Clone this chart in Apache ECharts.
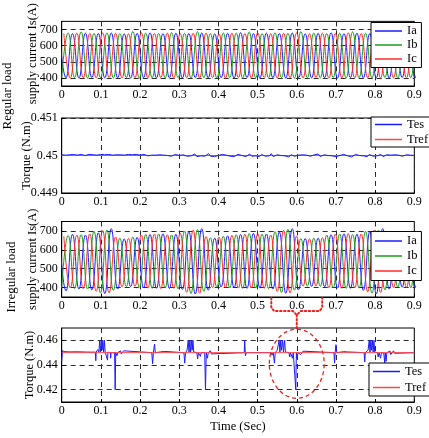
<!DOCTYPE html>
<html><head><meta charset="utf-8">
<script src="https://cdn.jsdelivr.net/npm/echarts@6/dist/echarts.min.js"></script>
<style>html,body{margin:0;padding:0;background:#fff}#c{width:429px;height:438px}</style>
</head><body><div id="c"></div>
<script>
// ---- axis ticks ----
const timeTicks = [0, 0.1, 0.2, 0.3, 0.4, 0.5, 0.6, 0.7, 0.8, 0.9];
const currentTicks = [400, 500, 600, 700];
const torqueRegTicks = [0.449, 0.45, 0.451];
const torqueIrrTicks = [0.42, 0.44, 0.46];

// ---- current waveforms: successive peak/trough values (A), one every half period ----
const halfPeriod = 0.0165;         // s between successive extrema of one phase
const iaStart = -0.0055, ibStart = 0.0, icStart = 0.0055; // time of first extremum

const iaReg = [676,401,674,399,677,402,675,400,678,401,673,399,676,402,679,400,674,401,677,399,675,402,678,400,673,401,676,399,680,402,674,400,677,401,675,399,678,402,673,400,676,401,679,399,674,402,677,400,675,401,678,399,673,402,676,400,677,401,675,399,678,400,676,401];
const ibReg = [400,678,402,685,399,676,401,679,400,674,402,688,399,677,401,675,400,680,402,676,399,686,401,674,400,678,402,677,399,684,401,675,400,679,402,676,399,687,401,678,400,674,402,677,399,685,401,676,400,679,402,675,399,680,401,677,400,676,402,678,399,675,401,677];
const icReg = [675,399,677,401,674,400,678,402,676,399,673,401,679,400,675,402,677,399,674,401,676,400,678,402,673,399,677,401,675,400,679,402,674,399,676,401,678,400,673,402,677,399,675,401,679,400,674,402,676,399,678,401,673,400,677,402,675,399,676,401,678,400,674,401];

const iaIrr = [668,382,682,392,678,388,690,368,712,392,658,405,666,398,681,396,685,395,682,390,696,366,712,386,662,403,674,399,681,396,687,397,684,392,694,370,712,390,660,406,662,404,680,397,685,396,683,385,697,366,712,392,674,402,677,399,676,401,678,399,675,400,677,398];
const ibIrr = [398,676,395,680,392,698,372,705,385,662,405,668,402,682,396,684,398,679,393,700,368,707,380,664,402,672,398,680,396,686,397,683,394,696,374,708,386,660,408,662,406,678,398,684,396,681,397,698,370,705,388,674,402,676,399,678,400,677,398,675,401,676,399,677];
const icIrr = [672,398,678,394,684,380,702,372,668,404,660,406,678,397,683,395,680,396,688,375,704,370,670,400,668,401,677,397,682,398,685,396,679,380,703,372,672,407,658,408,664,399,683,396,686,398,684,378,704,374,672,401,675,400,677,399,676,401,678,398,675,400,677,399];

// ---- torque, regular load: Tes sampled every 5 ms (N.m) ----
const tesRegStep = 0.005;
const tesReg = [
0.45002,0.45003,0.45001,0.45002,0.45002,0.45001,0.45003,0.45002,0.45001,0.45002,
0.45003,0.45002,0.45000,0.45002,0.45003,0.45001,0.45002,0.45004,0.45001,0.45002,
0.45003,0.45001,0.45002,0.45000,0.45003,0.45002,0.45001,0.45003,0.45002,0.45001,
0.45002,0.45004,0.45001,0.45002,0.45003,0.45000,0.45002,0.45001,0.45003,0.45002,
0.45001,0.45002,0.45003,0.45001,0.44999,0.45002,0.45001,0.45002,0.45001,0.44998,
0.45002,0.44999,0.45001,0.44997,0.45000,0.45002,0.44998,0.45001,0.45003,0.44999,
0.45000,0.44996,0.45002,0.45001,0.44998,0.45003,0.44999,0.45000,0.45004,0.44997,
0.45001,0.44999,0.45002,0.44998,0.45003,0.45005,0.44998,0.45001,0.44997,0.45002,
0.45000,0.44996,0.45003,0.44999,0.45001,0.45004,0.44998,0.45002,0.44997,0.45001,
0.45003,0.44999,0.45000,0.45002,0.44997,0.45001,0.45004,0.44998,0.45002,0.44999,
0.45001,0.44997,0.45003,0.45000,0.44998,0.45002,0.44999,0.45005,0.44997,0.45001,
0.45002,0.44998,0.45000,0.45003,0.44999,0.45001,0.44996,0.45002,0.45000,0.44998,
0.45003,0.45001,0.44999,0.45002,0.44997,0.45001,0.45003,0.44998,0.45000,0.45002,
0.44999,0.45004,0.44997,0.45001,0.45002,0.44998,0.45000,0.45003,0.44999,0.45001,
0.44997,0.45002,0.45000,0.44998,0.45003,0.45001,0.44999,0.45002,0.44996,0.45001,
0.45003,0.44998,0.45000,0.45002,0.44999,0.45001,0.44997,0.45003,0.45000,0.44998,
0.45002,0.44999,0.45001,0.45003,0.44997,0.45000,0.45002,0.44998,0.45001,0.44999,
0.45002,0.44997,0.45001,0.45003,0.44998,0.45000,0.45002,0.44999,0.45001,0.44998,0.45000];
const trefReg = [[0, 0.45], [0.9, 0.45]];

// ---- torque, irregular load: Tes [time s, torque N.m] ----
const tesIrr = [
[0,0.443],[0.002,0.4515],[0.005,0.4525],[0.008,0.4508],[0.02,0.4506],[0.04,0.4507],[0.06,0.4505],[0.08,0.4504],
[0.086,0.4505],[0.087,0.4435],[0.088,0.4505],[0.092,0.4525],[0.095,0.4505],
[0.097,0.46],[0.099,0.4505],[0.101,0.46],[0.103,0.452],[0.105,0.46],[0.107,0.4505],[0.109,0.46],[0.111,0.4505],
[0.116,0.4505],[0.117,0.444],[0.118,0.4505],[0.124,0.45],[0.125,0.4455],[0.126,0.45],
[0.135,0.45],[0.1365,0.42],[0.138,0.45],[0.141,0.4475],[0.143,0.45],
[0.15,0.4515],[0.152,0.449],[0.155,0.45],[0.158,0.4515],[0.16,0.45],
[0.23,0.45],[0.232,0.441],[0.234,0.45],[0.237,0.457],[0.239,0.45],[0.25,0.4505],[0.253,0.449],[0.255,0.45],[0.262,0.451],[0.264,0.45],
[0.312,0.45],[0.314,0.4415],[0.316,0.45],[0.32,0.452],[0.323,0.46],[0.325,0.4505],[0.327,0.46],[0.329,0.4505],[0.331,0.46],[0.333,0.452],[0.335,0.46],[0.337,0.4505],
[0.345,0.45],[0.347,0.445],[0.349,0.45],[0.354,0.447],[0.356,0.45],[0.365,0.45],[0.367,0.42],[0.369,0.45],[0.372,0.4455],[0.374,0.45],
[0.38,0.4515],[0.382,0.449],[0.385,0.45],
[0.466,0.45],[0.467,0.46],[0.469,0.4475],[0.471,0.45],
[0.535,0.45],[0.537,0.448],[0.54,0.45],[0.543,0.4415],[0.545,0.45],[0.55,0.452],
[0.555,0.46],[0.557,0.4505],[0.559,0.46],[0.561,0.452],[0.564,0.46],[0.566,0.4505],[0.569,0.46],[0.571,0.4505],
[0.58,0.45],[0.582,0.4465],[0.584,0.45],[0.589,0.4455],[0.591,0.45],[0.596,0.45],[0.5975,0.42],[0.599,0.45],[0.601,0.4455],[0.603,0.45],
[0.608,0.4515],[0.61,0.4485],[0.613,0.45],[0.616,0.4512],[0.618,0.45],
[0.695,0.45],[0.6965,0.4415],[0.698,0.45],[0.7,0.4565],[0.702,0.45],
[0.72,0.4508],[0.722,0.45],[0.73,0.4506],[0.732,0.45],
[0.772,0.45],[0.7735,0.4425],[0.775,0.45],[0.782,0.452],[0.785,0.46],[0.787,0.4505],[0.789,0.46],[0.791,0.452],[0.793,0.46],[0.795,0.4505],[0.797,0.46],[0.799,0.4505],
[0.806,0.45],[0.808,0.4465],[0.81,0.45],[0.814,0.4455],[0.816,0.45],[0.822,0.45],[0.8245,0.4415],[0.826,0.45],[0.828,0.443],[0.83,0.45],
[0.838,0.4513],[0.84,0.4485],[0.843,0.45],[0.847,0.4515],[0.85,0.4495],[0.853,0.45],[0.9,0.45]];
const trefIrr = [[0, 0.45], [0.9, 0.45]];

// ---- styling ----
const FONT = 'Liberation Serif';
const C_A = '#1c1cff', C_B = '#1f9a1f', C_C = '#ff2a2a', C_TES = '#1c1cff', C_TREF = '#ff4848';

function extrema(t0, vals) { return vals.map((v, i) => [t0 + i * halfPeriod, v]); }
function sampled(step, vals) { return vals.map((v, i) => [i * step, v]); }

const grids = [
  { left: 61.7, right: 14.7, top: 10, height: 76 },
  { left: 61.7, right: 14.7, top: 118, height: 75 },
  { left: 61.7, right: 14.7, top: 221.5, height: 75.5 },
  { left: 61.7, right: 14.7, top: 328, height: 74 }
].map(g => Object.assign(g, { show: true, borderColor: '#000', borderWidth: 1, backgroundColor: 'transparent' }));

const dashed = { show: true, lineStyle: { color: '#2a2a2a', type: [5, 4], width: 1 } };
const labelStyle = { color: '#000', fontFamily: FONT, fontSize: 12 };

const xAxes = [0, 1, 2, 3].map(i => ({
  type: 'value', gridIndex: i, min: 0, max: 0.9, interval: 0.1,
  axisLine: { show: true, onZero: false, lineStyle: { color: '#000' } },
  axisTick: { show: true, inside: true, length: 3, lineStyle: { color: '#000' } },
  axisLabel: Object.assign({ margin: 3, showMinLabel: true, showMaxLabel: true }, labelStyle),
  splitLine: dashed,
  name: i === 3 ? 'Time (Sec)' : '', nameLocation: 'middle', nameGap: 18, nameMoveOverlap: false,
  nameTextStyle: { color: '#000', fontFamily: FONT, fontSize: 12.5 }
}));

function yAxis(i, min, max, ticks, name, gap) {
  return {
    type: 'value', gridIndex: i, min: min, max: max,
    axisLine: { show: true, onZero: false, lineStyle: { color: '#000' } },
    axisTick: { show: true, inside: true, length: 3, customValues: ticks, lineStyle: { color: '#000' } },
    axisLabel: Object.assign({ margin: 4, customValues: ticks }, labelStyle),
    splitLine: dashed,
    name: name, nameLocation: 'middle', nameGap: gap, nameMoveOverlap: false,
    nameTextStyle: { color: '#000', fontFamily: FONT, fontSize: 12.5 }
  };
}
const yAxes = [
  yAxis(0, 350, 750, currentTicks, 'supply current Is(A)', 22),
  yAxis(1, 0.449, 0.451, torqueRegTicks, 'Torque (N.m)', 28),
  yAxis(2, 350, 750, currentTicks, 'supply current Is(A)', 22),
  yAxis(3, 0.41, 0.47, torqueIrrTicks, 'Torque (N.m)', 25)
];

function line(name, idx, data, color, smooth) {
  return { type: 'line', name: name, xAxisIndex: idx, yAxisIndex: idx, data: data,
    showSymbol: false, symbol: 'none', smooth: smooth ? 0.5 : false,
    lineStyle: { color: color, width: 1 }, itemStyle: { color: color }, animation: false };
}

const series = [
  line('Ia', 0, extrema(iaStart, iaReg), C_A, true),
  line('Ib', 0, extrema(ibStart, ibReg), C_B, true),
  line('Ic', 0, extrema(icStart, icReg), C_C, true),
  line('Tref', 1, trefReg, C_TREF, false),
  line('Tes', 1, sampled(tesRegStep, tesReg), C_TES, false),
  line('Ia', 2, extrema(iaStart, iaIrr), C_A, true),
  line('Ib', 2, extrema(ibStart, ibIrr), C_B, true),
  line('Ic', 2, extrema(icStart, icIrr), C_C, true),
  line('Tes', 3, tesIrr, C_TES, false),
  line('Tref', 3, trefIrr, C_TREF, false)
];

function legend(left, top, names, pad, gap) {
  return { left: left, top: top, orient: 'vertical', data: names, selectedMode: false,
    backgroundColor: '#fff', borderColor: '#000', borderWidth: 1, borderRadius: 0,
    padding: pad, itemGap: gap, itemWidth: 27, itemHeight: 1.5, icon: 'rect',
    textStyle: { color: '#000', fontFamily: FONT, fontSize: 12.5, padding: [0, 0, 0, 0] } };
}

const chart = echarts.init(document.getElementById('c'), null, { renderer: 'canvas' });
chart.setOption({
  animation: false,
  backgroundColor: '#fff',
  grid: grids, xAxis: xAxes, yAxis: yAxes, series: series,
  legend: [
    legend(371, 22.5, ['Ia', 'Ib', 'Ic'], [2, 4, 2, 4], 1),
    legend(371, 117, ['Tes', 'Tref'], [1, 4, 1, 4], 2),
    legend(371, 231.5, ['Ia', 'Ib', 'Ic'], [3, 4, 3, 4], 2),
    legend(369, 363, ['Tes', 'Tref'], [2, 4, 2, 4], 3)
  ]
});

// ---- annotations anchored to data coordinates ----
const p = (g, t, v) => chart.convertToPixel({ gridIndex: g }, [t, v]);
const cen = p(3, 0.6, 0.441), eTop = p(3, 0.6, 0.469), eBot = p(3, 0.6, 0.413), eRight = p(3, 0.67, 0.441);
const bL = p(2, 0.535, 350), bR = p(2, 0.665, 350), bC = p(2, 0.6, 350);
const y0 = bL[1] + 1, y1 = bL[1] + 14, y2 = bL[1] + 18;
const dotted = { stroke: '#e8231f', lineWidth: 2, lineDash: [1.5, 2.5], lineCap: 'round', fill: null };

chart.setOption({
  graphic: [
    { type: 'text', x: 8, y: 96, rotation: Math.PI / 2, style: { text: 'Regular load', fill: '#000', font: '13px "Liberation Serif"', align: 'center', verticalAlign: 'middle' } },
    { type: 'text', x: 12, y: 277, rotation: Math.PI / 2, style: { text: 'Irregular load', fill: '#000', font: '13px "Liberation Serif"', align: 'center', verticalAlign: 'middle' } },
    { type: 'ellipse', shape: { cx: cen[0], cy: (eTop[1] + eBot[1]) / 2, rx: eRight[0] - cen[0], ry: (eBot[1] - eTop[1]) / 2 },
      style: { stroke: '#e8231f', lineWidth: 1.3, lineDash: [4, 3], fill: null }, z: 100 },
    { type: 'polyline', shape: { points: [[bL[0], y0], [bL[0], y1 - 3], [bL[0] + 3, y1], [bC[0] - 4, y1], [bC[0], y2], [bC[0] + 4, y1], [bR[0] - 3, y1], [bR[0], y1 - 3], [bR[0], y0]] },
      style: dotted, z: 100 },
    { type: 'line', shape: { x1: bC[0], y1: y2, x2: bC[0], y2: eTop[1] - 1 }, style: dotted, z: 100 }
  ]
});
</script></body></html>
